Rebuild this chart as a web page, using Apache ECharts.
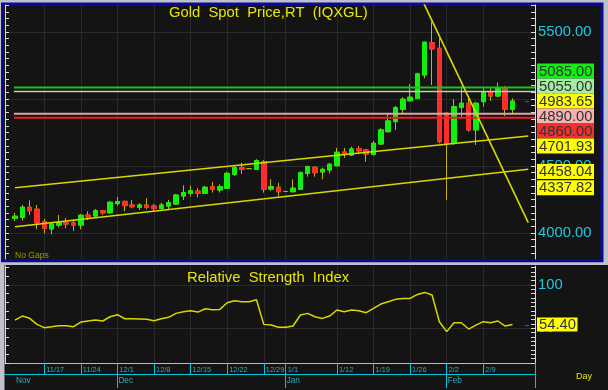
<!DOCTYPE html>
<html><head><meta charset="utf-8">
<script src="https://cdn.jsdelivr.net/npm/echarts@6/dist/echarts.min.js"></script>
<style>html,body{margin:0;padding:0;background:#c0c0c8;}#c{width:608px;height:390px;}</style>
</head><body><div id="c"></div>
<script>
// ---------------- DATA ----------------
const dates = ['11/11','11/12','11/13','11/14','11/17','11/18','11/19','11/20','11/21','11/24','11/25','11/26','11/27','11/28','12/1','12/2','12/3','12/4','12/5','12/8','12/9','12/10','12/11','12/12','12/15','12/16','12/17','12/18','12/19','12/22','12/23','12/24','12/25','12/26','12/29','12/30','12/31','1/1','1/2','1/5','1/6','1/7','1/8','1/9','1/12','1/13','1/14','1/15','1/16','1/19','1/20','1/21','1/22','1/23','1/26','1/27','1/28','1/29','1/30','2/2','2/3','2/4','2/5','2/6','2/9','2/10','2/11','2/12','2/13'];
const openP  = [4110,4117,4192,4177,4084,4030,4059,4077,4075,4059,4134,4127,4166,4151,4219,4236,4209,4192,4209,4201,4184,4201,4216,4276,4296,4313,4296,4345,4321,4334,4438,4487,4480,4475,4532,4328,4341,4310,4308,4326,4445,4490,4455,4470,4502,4604,4582,4629,4619,4586,4664,4756,4831,4923,4987,5005,5179,5420,5378,4893,4669,4938,4968,4769,4980,5054,5022,5080,4923];
const closeP = [4125,4192,4166,4077,4035,4067,4080,4067,4059,4132,4121,4166,4151,4229,4234,4204,4196,4209,4192,4184,4209,4226,4283,4301,4316,4296,4341,4326,4345,4445,4487,4475,4480,4540,4326,4345,4308,4310,4334,4450,4495,4450,4475,4513,4602,4586,4627,4613,4589,4669,4769,4836,4935,4998,5013,5187,5423,5373,4681,4669,4942,4968,4769,4968,5054,5022,5080,4923,4983.65];
const lowP   = [4090,4092,4134,4028,3998,3990,4042,4035,4015,4028,4097,4121,4136,4144,4204,4162,4184,4172,4177,4166,4166,4177,4209,4246,4271,4266,4291,4301,4301,4328,4425,4440,4480,4470,4301,4316,4271,4310,4301,4321,4420,4420,4401,4445,4496,4560,4575,4589,4532,4578,4657,4751,4769,4893,4980,4998,5154,5104,4670,4246,4657,4863,4756,4657,4942,4987,5013,4873,4893];
const highP  = [4151,4209,4244,4209,4107,4084,4134,4112,4097,4142,4162,4179,4172,4239,4269,4240,4246,4222,4259,4216,4226,4246,4291,4356,4353,4334,4351,4381,4363,4457,4500,4525,4480,4550,4545,4401,4375,4310,4401,4460,4502,4500,4487,4520,4634,4634,4644,4649,4627,4687,4781,4893,4948,5013,5112,5196,5428,5577,5453,4900,4998,5097,5013,4980,5080,5080,5122,5097,5005];
const rsi = [59.6,64.2,61.6,54.6,50.8,51.9,53.0,53.0,51.9,57.3,58.5,59.6,58.5,63.4,65.8,61.1,61.1,60.8,60.4,58.8,61.1,62.7,67.3,69.2,70.4,68.8,72.7,71.5,71.9,79.6,81.9,80.8,80.8,83.1,54.6,53.8,51.2,51.2,52.7,65.4,67.3,63.4,61.5,64.2,71.2,69.2,71.2,70.4,68.1,73.1,78.1,80.8,83.5,84.6,84.6,89.2,91.5,88.5,57.7,46.2,56.5,56.5,49.2,53.8,57.7,56.5,58.5,52.7,54.4];

const weekTickDates = ['11/17','11/24','12/1','12/8','12/15','12/22','12/29','1/1','1/12','1/19','1/26','2/2','2/9'];
const monthTickDates = ['12/1','1/1','2/2'];
const monthLabelDates = ['11/11','12/1','1/1','2/2'];
const monthLabels = ['Nov','Dec','Jan','Feb'];
const priceAxisLabels = [4000,4500,5000,5500];
const rsiAxisLabels = [50,100];
const levelValues = [5085,5055,4890,4860];
const trendUpper = [[0,4338],[70.15,4724]];
const trendLower = [[0,4047],[70.15,4475]];
const trendDown  = [[55.9,5710],[70.15,4077]];
const priceTagValues = [5085,5055,4983.65,4890,4860,4701.93,4458.04,4337.82];
const rsiTagValue = 54.40;

// ---------------- STYLE ----------------
function hasFont(name){const c=document.createElement('canvas').getContext('2d');const s='abcdefghijklmnopqrstuvwxyz0123456789ABCDEFG';c.font='20px monospace';const w0=c.measureText(s).width;c.font='20px "'+name+'", monospace';return c.measureText(s).width!==w0;}
const NARROW = hasFont('Liberation Sans Narrow');
const FF = NARROW ? '"Liberation Sans Narrow", sans-serif' : '"Liberation Sans", Arial, sans-serif';
const K = NARROW ? 1 : 0.82;
const fs = s => Math.round(s*K*10)/10;
const GRID='#2a2a2a', CYAN='#00c8d8', CYANLBL='#1ec8e0', DATELBL='#3aa8b8', AXW='#dcdcdc';
const UP='#10f010', DOWN='#ff2c2c', WICK='#c4b400', TREND='#d8d800';
const levelColors = {5085:'#20c020',5055:'#b4d8b4',4890:'#e0a4a4',4860:'#e82020'};
const levelWidths = {5085:2,5055:1.5,4890:2,4860:2};
const tagColors = {5085:'#10f010',5055:'#a4eca4',4983.65:'#ffff00',4890:'#f6b2b2',4860:'#f23030',4701.93:'#ffff00',4458.04:'#ffff00',4337.82:'#ffff00'};

const xMin=-1.367, xMax=71.07, pMin=3806, pMax=5701, rMin=10, rMax=122;
const idx = d => dates.indexOf(d);
const weekIdx = weekTickDates.map(idx);
const monthTickIdx = monthTickDates.map(idx);
const monthLabelIdx = monthLabelDates.map(idx);
const stepTicks=(a,b,s)=>{const r=[];for(let v=Math.ceil(a/s)*s;v<=b;v+=s)r.push(v);return r;};

const chart = echarts.init(document.getElementById('c'));
const xBase = g => ({type:'value',gridIndex:g,min:xMin,max:xMax,position:'bottom'});
const option = {
  animation:false,
  backgroundColor:'transparent',
  grid:[{left:5,top:5,width:530,height:254},{left:5,top:266,width:530,height:97}],
  xAxis:[
    Object.assign(xBase(0),{axisLine:{show:false,onZero:false},axisTick:{show:false,customValues:weekIdx},axisLabel:{show:false},splitLine:{show:true,lineStyle:{color:GRID}}}),
    Object.assign(xBase(1),{axisLine:{show:true,onZero:false,lineStyle:{color:'#bcbcbc'}},
      axisTick:{show:true,customValues:weekIdx.concat([xMax]),length:11,lineStyle:{color:CYAN}},
      axisLabel:{show:true,customValues:weekIdx,formatter:v=>dates[Math.round(v)],align:'left',verticalAlign:'top',margin:3,padding:[0,0,0,2],color:DATELBL,fontSize:fs(9),fontFamily:FF},
      splitLine:{show:true,lineStyle:{color:GRID}}}),
    Object.assign(xBase(1),{offset:11,axisLine:{show:true,onZero:false,lineStyle:{color:CYAN}},
      axisTick:{show:true,customValues:monthTickIdx.concat([xMax]),length:14,lineStyle:{color:CYAN}},
      axisLabel:{show:true,customValues:monthLabelIdx,formatter:v=>monthLabels[monthLabelIdx.indexOf(Math.round(v))],align:'left',verticalAlign:'top',margin:3,padding:[0,0,0,1],color:DATELBL,fontSize:fs(10),fontFamily:FF},
      splitLine:{show:false}})
  ],
  yAxis:[
    {type:'value',gridIndex:0,position:'right',min:pMin,max:pMax,axisLine:{show:true,onZero:false,lineStyle:{color:AXW}},axisTick:{show:false,customValues:priceAxisLabels},
      axisLabel:{customValues:priceAxisLabels,formatter:v=>v.toFixed(2),color:CYANLBL,fontSize:fs(18),fontFamily:FF,margin:3},splitLine:{show:true,lineStyle:{color:GRID}}},
    {type:'value',gridIndex:0,position:'right',min:pMin,max:pMax,axisLine:{show:false,onZero:false},axisTick:{show:true,inside:true,length:4,customValues:stepTicks(pMin,pMax,50),lineStyle:{color:AXW}},axisLabel:{show:false},splitLine:{show:false}},
    {type:'value',gridIndex:0,position:'left',min:pMin,max:pMax,axisLine:{show:true,onZero:false,lineStyle:{color:AXW}},axisTick:{show:true,inside:true,length:4,customValues:stepTicks(pMin,pMax,50),lineStyle:{color:AXW}},axisLabel:{show:false},splitLine:{show:false}},
    {type:'value',gridIndex:1,position:'right',min:rMin,max:rMax,axisLine:{show:true,onZero:false,lineStyle:{color:AXW}},axisTick:{show:false,customValues:rsiAxisLabels},
      axisLabel:{customValues:rsiAxisLabels,color:CYANLBL,fontSize:fs(18),fontFamily:FF,margin:3},splitLine:{show:true,lineStyle:{color:GRID}}},
    {type:'value',gridIndex:1,position:'right',min:rMin,max:rMax,axisLine:{show:false,onZero:false},axisTick:{show:true,inside:true,length:4,customValues:stepTicks(rMin,rMax,5),lineStyle:{color:AXW}},axisLabel:{show:false},splitLine:{show:false}},
    {type:'value',gridIndex:1,position:'left',min:rMin,max:rMax,axisLine:{show:true,onZero:false,lineStyle:{color:AXW}},axisTick:{show:true,inside:true,length:4,customValues:stepTicks(rMin,rMax,10),lineStyle:{color:AXW}},axisLabel:{show:false},splitLine:{show:false}}
  ],
  series:[]
};
// candles: wick layer, then body layer
option.series.push({type:'candlestick',xAxisIndex:0,yAxisIndex:0,barWidth:5,clip:true,
  data:dates.map((d,i)=>[i,openP[i],closeP[i],lowP[i],highP[i]]),encode:{x:0,y:[1,2,3,4]},
  itemStyle:{color:UP,color0:DOWN,borderColor:WICK,borderColor0:WICK,borderColorDoji:WICK,borderWidth:1}});
option.series.push({type:'candlestick',xAxisIndex:0,yAxisIndex:0,barWidth:5,clip:true,
  data:dates.map((d,i)=>(openP[i]===closeP[i]&&lowP[i]===highP[i])?[i,'-','-','-','-']:[i,openP[i],closeP[i],Math.min(openP[i],closeP[i]),Math.max(openP[i],closeP[i])]),encode:{x:0,y:[1,2,3,4]},
  itemStyle:{color:UP,color0:DOWN,borderColor:UP,borderColor0:DOWN,borderWidth:1}});
levelValues.forEach(v=>option.series.push({type:'line',xAxisIndex:0,yAxisIndex:0,showSymbol:false,silent:true,
  data:[[-0.15,v],[xMax,v]],lineStyle:{color:levelColors[v],width:levelWidths[v]}}));
[trendUpper,trendLower,trendDown].forEach(t=>option.series.push({type:'line',xAxisIndex:0,yAxisIndex:0,showSymbol:false,silent:true,clip:true,
  data:t,lineStyle:{color:TREND,width:1.6}}));
option.series.push({type:'line',xAxisIndex:1,yAxisIndex:3,showSymbol:false,silent:true,
  data:rsi.map((v,i)=>[i,v]),lineStyle:{color:TREND,width:1.5}});
chart.setOption(option);

// ---------------- overlay graphics ----------------
function layoutTags(desired,h){
  let blocks=desired.map(y=>({sum:y,n:1,top:y-h/2}));
  let changed=true;
  while(changed){changed=false;
    for(let i=0;i<blocks.length-1;i++){const a=blocks[i],b=blocks[i+1];
      if(a.top+a.n*h>b.top+0.01){const m={sum:a.sum+b.sum,n:a.n+b.n};m.top=m.sum/m.n-m.n*h/2;blocks.splice(i,2,m);changed=true;break;}}}
  const out=[];blocks.forEach(b=>{for(let k=0;k<b.n;k++)out.push(b.top+h/2+k*h);});return out;
}
const TAGH=15;
const sortedTags = priceTagValues.slice().sort((a,b)=>b-a);
const desiredY = sortedTags.map(v=>chart.convertToPixel({yAxisIndex:0},v));
const tagY = layoutTags(desiredY,TAGH);
const els = [];
els.push({type:'rect',z:-10,silent:true,shape:{x:2.5,y:4,width:599.5,height:256.7},style:{fill:'#141414',stroke:'#0a0a9a',lineWidth:3}});
els.push({type:'rect',z:-10,silent:true,shape:{x:4.5,y:265,width:604,height:126},style:{fill:'#141414'}});
const txt=(text,x,y,size,fill,extra)=>Object.assign({type:'text',z:50,silent:true,x:x,y:y,style:{text:text,fill:fill,font:fs(size)+'px '+FF,verticalAlign:'middle',align:'left'}},extra||{});
els.push(txt('Gold  Spot  Price,RT  (IQXGL)',169,13,18,'#e6e600'));
els.push(txt('Relative  Strength  Index',187,277.5,18,'#e6e600'));
els.push(txt('No Gaps',15,255.5,10.5,'#9a9a00'));
els.push(txt('Day',576,377,11,'#e6e600'));
sortedTags.forEach((v,i)=>{
  els.push({type:'rect',z:60,silent:true,shape:{x:537,y:tagY[i]-TAGH/2,width:57,height:TAGH},style:{fill:tagColors[v]}});
  els.push(txt(v.toFixed(2),539,tagY[i]+0.5,18,'#333333',{z:61}));
});
const lastY = chart.convertToPixel({yAxisIndex:0},closeP[closeP.length-1]);
els.push(txt('\u2192',522,lastY,10,'#b8b870'));
const rsiY = chart.convertToPixel({yAxisIndex:3},rsiTagValue);
els.push({type:'rect',z:60,silent:true,shape:{x:537,y:rsiY-7,width:40.5,height:14},style:{fill:'#ffff00'}});
els.push(txt(rsiTagValue.toFixed(2),539,rsiY+0.5,18,'#333333',{z:61}));
els.push(txt('\u2192',522,rsiY,10,'#b8b870'));
chart.setOption({graphic:{elements:els}});
</script></body></html>
